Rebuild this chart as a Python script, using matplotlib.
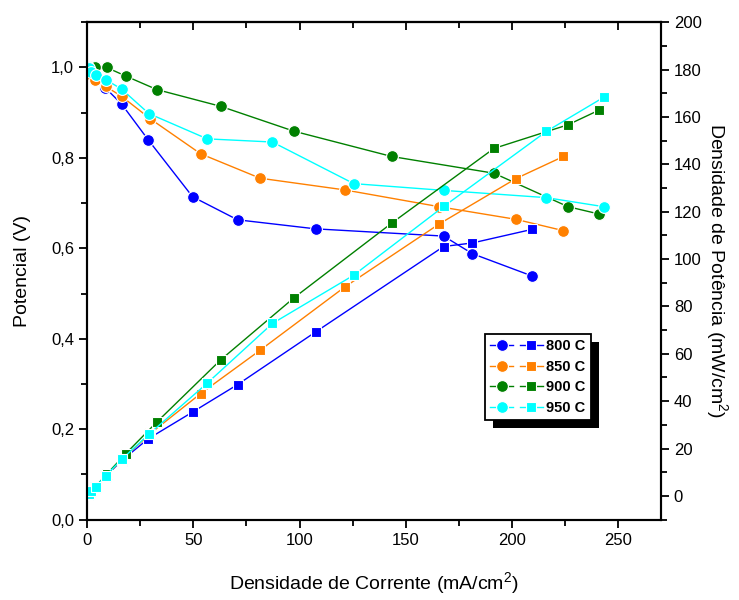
import numpy as np
import matplotlib
matplotlib.use('Agg')
import matplotlib.pyplot as plt
from matplotlib.legend_handler import HandlerTuple
from matplotlib.patches import Rectangle
from matplotlib.ticker import MultipleLocator, FuncFormatter

plt.rcParams['font.family'] = ['Liberation Sans', 'DejaVu Sans']
plt.rcParams['mathtext.default'] = 'regular'

labels = ['800 C', '850 C', '900 C', '950 C']
colors = ['#0000ff', '#ff8000', '#008000', '#00ffff']

# corrente (mA/cm2), potencial (V), densidade de potencia (mW/cm2)
i_800 = [0.5, 1.5, 4.0, 8.5, 16.2, 28.7, 49.6, 70.8, 107.5, 167.8, 181.4, 209.3]
v_800 = [1.0, 0.995, 0.975, 0.955, 0.919, 0.840, 0.714, 0.663, 0.643, 0.627, 0.588, 0.539]
p_800 = [0.5, 1.5, 3.9, 8.1, 14.9, 24.1, 35.4, 47.0, 69.2, 105.3, 106.8, 112.5]

i_850 = [0.5, 1.5, 3.6, 8.7, 16.2, 29.8, 53.4, 81.4, 121.4, 165.7, 201.9, 224.2]
v_850 = [0.995, 0.985, 0.973, 0.958, 0.936, 0.886, 0.809, 0.755, 0.729, 0.692, 0.664, 0.639]
p_850 = [0.5, 1.5, 3.5, 8.3, 15.2, 26.4, 43.2, 61.5, 88.3, 114.8, 134.0, 143.3]

i_900 = [0.5, 1.5, 3.9, 9.1, 18.1, 32.8, 62.8, 97.3, 143.4, 191.5, 226.4, 240.8]
v_900 = [1.0, 1.0, 1.0, 1.0, 0.981, 0.951, 0.914, 0.859, 0.803, 0.766, 0.692, 0.676]
p_900 = [0.5, 1.5, 3.9, 9.1, 17.8, 31.2, 57.4, 83.6, 115.2, 146.7, 156.7, 162.8]

i_950 = [0.3, 0.9, 2.0, 4.0, 8.7, 16.2, 29.0, 56.5, 87.2, 125.5, 168.0, 216.2, 243.2]
v_950 = [1.0, 0.999, 0.99, 0.984, 0.973, 0.952, 0.898, 0.842, 0.835, 0.743, 0.728, 0.712, 0.692]
p_950 = [0.3, 0.9, 2.0, 3.9, 8.5, 15.4, 26.0, 47.6, 72.8, 93.2, 122.3, 153.9, 168.3]

currents = [i_800, i_850, i_900, i_950]
voltages = [v_800, v_850, v_900, v_950]
powers = [p_800, p_850, p_900, p_950]

fig = plt.figure(figsize=(7.39, 6), dpi=100)
ax = fig.add_axes([0.118, 0.134, 0.776, 0.829])
ax2 = ax.twinx()

handles = []
for cur, v, p, c in zip(currents, voltages, powers, colors):
    l1, = ax.plot(cur, v, '-o', color=c, lw=1.0, ms=8.5, mec='white', mew=0.8)
    l2, = ax2.plot(cur, p, '-s', color=c, lw=1.0, ms=7.5, mec='white', mew=0.8)
    handles.append((l1, l2))

ax.set_xlim(0, 270)
ax.set_ylim(0, 1.1)
ax2.set_ylim(-10, 200)

ax.xaxis.set_major_locator(MultipleLocator(50))
ax.xaxis.set_minor_locator(MultipleLocator(25))
ax.yaxis.set_major_locator(MultipleLocator(0.2))
ax.yaxis.set_minor_locator(MultipleLocator(0.1))
ax.yaxis.set_major_formatter(FuncFormatter(lambda y, pos: f'{y:.1f}'.replace('.', ',')))
ax2.yaxis.set_major_locator(MultipleLocator(20))
ax2.yaxis.set_minor_locator(MultipleLocator(10))

for a in (ax, ax2):
    for s in a.spines.values():
        s.set_linewidth(1.5)
    a.tick_params(which='major', direction='out', length=6, width=1.3, labelsize=12)
    a.tick_params(which='minor', direction='out', length=4, width=1.3)

top = ax.secondary_xaxis('top')
top.xaxis.set_major_locator(MultipleLocator(50))
top.xaxis.set_minor_locator(MultipleLocator(25))
top.tick_params(which='major', direction='in', length=6, width=1.3, labeltop=False)
top.tick_params(which='minor', direction='in', length=4, width=1.3)
top.spines['top'].set_linewidth(1.5)

ax.set_xlabel('Densidade de Corrente (mA/cm$^2$)', fontsize=14, labelpad=16)
ax.set_ylabel('Potencial (V)', fontsize=14, labelpad=14)
ax2.set_ylabel('Densidade de Potência (mW/cm$^2$)', fontsize=14, rotation=270, labelpad=20)

leg = ax2.legend(handles, labels, handler_map={tuple: HandlerTuple(ndivide=None, pad=0.5)},
                 loc='upper left', bbox_to_anchor=(0.694, 0.373), borderaxespad=0,
                 fancybox=False, edgecolor='black', framealpha=1, handlelength=3.6,
                 handletextpad=0.25, labelspacing=0.45, borderpad=0.35,
                 prop={'weight': 'bold', 'size': 10.5})
leg.get_frame().set_linewidth(1.3)

# sombra preta do legenda
fig.canvas.draw()
bb = leg.get_window_extent().transformed(ax2.transAxes.inverted())
dx = 8 / (ax.bbox.width)
dy = 8 / (ax.bbox.height)
ax2.add_patch(Rectangle((bb.x0 + dx, bb.y0 - dy), bb.width, bb.height, transform=ax2.transAxes,
                        facecolor='black', edgecolor='none', zorder=4.9, clip_on=False))

plt.savefig('out.png', dpi=100)
